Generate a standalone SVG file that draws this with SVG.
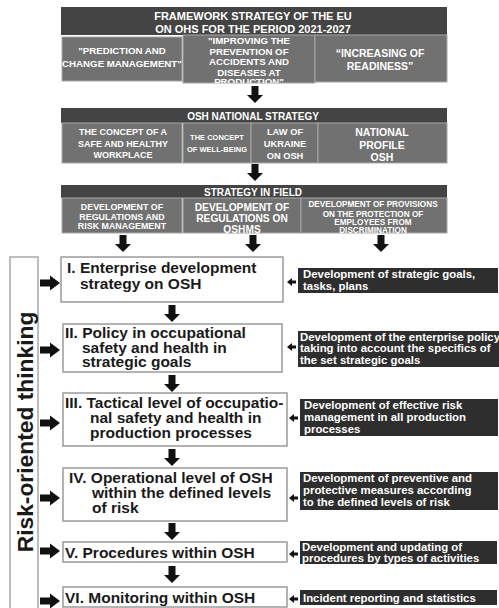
<svg xmlns="http://www.w3.org/2000/svg" width="499" height="608" viewBox="0 0 499 608">
<style>
text{font-family:"Liberation Sans",Arial,sans-serif;font-weight:bold}
.hd{fill:#444}
.sb{fill:#717171;stroke:#a8a8a8;stroke-width:1}
.wt{fill:#fff;text-anchor:middle}
.mb{fill:#fff;stroke:#9a9a9a;stroke-width:1.5}
.mt{fill:#1a1a1a;font-size:15.5px}
.db{fill:#2e2e2e}
.dt{fill:#fff;font-size:11.4px}
.ar{fill:#111}
</style>
<defs>
<path id="down" d="M-3.5,0 H3.5 V9 H8 L0,17 L-8,9 H-3.5 Z"/>
<path id="right" d="M0,-3.5 H10 V-7.5 L20,0 L10,7.5 V3.5 H0 Z"/>
<path id="lsm" d="M0,0 L5,-4 V-1.5 H9 V1.5 H5 V4 Z"/>
<clipPath id="clipImp"><rect x="183" y="35" width="132" height="48"/></clipPath>
</defs>

<g id="eu-framework">
<rect class="hd" x="61" y="7" width="386" height="28"/>
<text class="wt" x="253" y="20" font-size="11">FRAMEWORK STRATEGY OF THE EU</text>
<text class="wt" x="253" y="33" font-size="11">ON OHS FOR THE PERIOD 2021-2027</text>
</g>
<g id="eu-prediction">
<rect class="sb" x="62" y="37" width="120" height="44"/>
<text class="wt" x="122" y="54" font-size="9.7">"PREDICTION AND</text>
<text class="wt" x="122" y="67" font-size="9.7">CHANGE MANAGEMENT"</text>
</g>
<g id="eu-improving">
<rect class="sb" x="183" y="35" width="132" height="48"/>
<g clip-path="url(#clipImp)">
<text class="wt" x="249" y="44" font-size="9.7">"IMPROVING THE</text>
<text class="wt" x="249" y="54.5" font-size="9.7">PREVENTION OF</text>
<text class="wt" x="249" y="65" font-size="9.7">ACCIDENTS AND</text>
<text class="wt" x="249" y="75.5" font-size="9.7">DISEASES AT</text>
<text class="wt" x="249" y="85" font-size="9.7">PRODUCTION"</text>
</g>
</g>
<g id="eu-readiness">
<rect class="sb" x="315" y="35" width="132" height="47"/>
<text class="wt" x="380" y="57" font-size="10.5">“INCREASING OF</text>
<text class="wt" x="380" y="70" font-size="10.5">READINESS”</text>
</g>

<g id="national">
<rect class="hd" x="61" y="108" width="386" height="15"/>
<text class="wt" x="253" y="120" font-size="10">OSH NATIONAL STRATEGY</text>
</g>
<g id="nat-workplace">
<rect class="sb" x="62" y="123" width="120" height="40"/>
<text class="wt" x="123" y="135" font-size="9">THE CONCEPT OF A</text>
<text class="wt" x="123" y="147" font-size="9">SAFE AND HEALTHY</text>
<text class="wt" x="123" y="158" font-size="9">WORKPLACE</text>
</g>
<g id="nat-wellbeing">
<rect class="sb" x="183" y="123" width="68" height="40"/>
<text class="wt" x="217" y="140" font-size="7.5">THE CONCEPT</text>
<text class="wt" x="217" y="152" font-size="7.5">OF WELL-BEING</text>
</g>
<g id="nat-law">
<rect class="sb" x="251" y="123" width="67" height="40"/>
<text class="wt" x="285" y="135" font-size="9.3">LAW OF</text>
<text class="wt" x="285" y="147" font-size="9.3">UKRAINE</text>
<text class="wt" x="285" y="158.5" font-size="9.3">ON OSH</text>
</g>
<g id="nat-profile">
<rect class="sb" x="318" y="123" width="129" height="40"/>
<text class="wt" x="382" y="136" font-size="10.5">NATIONAL</text>
<text class="wt" x="382" y="148.5" font-size="10.5">PROFILE</text>
<text class="wt" x="382" y="161" font-size="10.5">OSH</text>
</g>

<g id="field">
<rect class="hd" x="61" y="185" width="386" height="13"/>
<text class="wt" x="253" y="196" font-size="10">STRATEGY IN FIELD</text>
</g>
<g id="field-risk">
<rect class="sb" x="62" y="198" width="120" height="35"/>
<text class="wt" x="122" y="210" font-size="8.9">DEVELOPMENT OF</text>
<text class="wt" x="122" y="219.5" font-size="8.9">REGULATIONS AND</text>
<text class="wt" x="122" y="228.5" font-size="8.9">RISK MANAGEMENT</text>
</g>
<g id="field-oshms">
<rect class="sb" x="183" y="198" width="118" height="35"/>
<text class="wt" x="242" y="210.5" font-size="10.2">DEVELOPMENT OF</text>
<text class="wt" x="242" y="221.5" font-size="10.2">REGULATIONS ON</text>
<text class="wt" x="242" y="233" font-size="10.2">OSHMS</text>
</g>
<g id="field-discrimination">
<rect class="sb" x="301" y="198" width="146" height="35"/>
<text class="wt" x="373" y="207" font-size="8.2">DEVELOPMENT OF PROVISIONS</text>
<text class="wt" x="373" y="216.5" font-size="8.2">ON THE PROTECTION OF</text>
<text class="wt" x="373" y="225" font-size="8.2">EMPLOYEES FROM</text>
<text class="wt" x="373" y="233" font-size="8.2">DISCRIMINATION</text>
</g>

<g id="risk-thinking">
<rect x="10" y="257" width="28" height="355" fill="#fff" stroke="#a8a8a8" stroke-width="1.5"/>
<text transform="translate(33,432) rotate(-90)" text-anchor="middle" font-size="22.8" fill="#1a1a1a">Risk-oriented thinking</text>
</g>

<g id="level1">
<rect class="mb" x="61" y="257" width="222" height="45"/>
<text class="mt" x="67" y="273">I. Enterprise development</text>
<text class="mt" x="80" y="289">strategy on OSH</text>
</g>
<g id="level2">
<rect class="mb" x="63" y="324" width="219" height="48"/>
<text class="mt" x="65" y="338">II. Policy in occupational</text>
<text class="mt" x="82" y="352.5">safety and health in</text>
<text class="mt" x="82" y="367">strategic goals</text>
</g>
<g id="level3">
<rect class="mb" x="63" y="393" width="224" height="53"/>
<text class="mt" x="65" y="408">III. Tactical level of occupatio-</text>
<text class="mt" x="90" y="423">nal safety and health in</text>
<text class="mt" x="90" y="438">production processes</text>
</g>
<g id="level4">
<rect class="mb" x="63" y="468" width="224" height="53"/>
<text class="mt" x="69" y="483">IV. Operational level of OSH</text>
<text class="mt" x="92" y="498">within the defined levels</text>
<text class="mt" x="92" y="513">of risk</text>
</g>
<g id="level5">
<rect class="mb" x="63" y="542" width="224" height="20"/>
<text class="mt" x="65" y="557.5">V. Procedures within OSH</text>
</g>
<g id="level6">
<rect class="mb" x="63" y="587" width="224" height="20"/>
<text class="mt" x="65" y="602.5">VI. Monitoring within OSH</text>
</g>

<g id="note1">
<rect class="db" x="298" y="268" width="200" height="25"/>
<text class="dt" x="303" y="278">Development of strategic goals,</text>
<text class="dt" x="303" y="289.5">tasks, plans</text>
</g>
<g id="note2">
<rect class="db" x="298" y="331" width="201" height="36"/>
<text class="dt" x="300" y="340.5">Development of the enterprise policy</text>
<text class="dt" x="300" y="352">taking into account the specifics of</text>
<text class="dt" x="300" y="363.5">the set strategic goals</text>
</g>
<g id="note3">
<rect class="db" x="300" y="399" width="198" height="37"/>
<text class="dt" x="304" y="408.5">Development of effective risk</text>
<text class="dt" x="304" y="420.5">management in all production</text>
<text class="dt" x="304" y="432.5">processes</text>
</g>
<g id="note4">
<rect class="db" x="300" y="472" width="198" height="38"/>
<text class="dt" x="303" y="481.5">Development of preventive and</text>
<text class="dt" x="303" y="493.5">protective measures according</text>
<text class="dt" x="303" y="505.5">to the defined levels of risk</text>
</g>
<g id="note5">
<rect class="db" x="300" y="541" width="197" height="23"/>
<text class="dt" x="302" y="550.5">Development and updating of</text>
<text class="dt" x="302" y="562">procedures by types of activities</text>
</g>
<g id="note6">
<rect class="db" x="300" y="590" width="197" height="15"/>
<text class="dt" x="303" y="602">Incident reporting and statistics</text>
</g>

<g id="connectors" class="ar">
<use href="#down" x="255" y="86"/>
<use href="#down" x="255" y="164"/>
<use href="#down" x="123" y="235"/>
<use href="#down" x="253" y="235"/>
<use href="#down" x="381" y="235"/>
<use href="#down" x="172" y="305"/>
<use href="#down" x="172" y="375"/>
<use href="#down" x="172" y="449"/>
<use href="#down" x="172" y="523"/>
<use href="#down" x="172" y="566"/>
<use href="#right" x="40" y="283"/>
<use href="#right" x="40" y="350"/>
<use href="#right" x="40" y="423"/>
<use href="#right" x="40" y="498"/>
<use href="#right" x="40" y="551"/>
<use href="#right" x="40" y="601"/>
<use href="#lsm" x="287" y="282"/>
<use href="#lsm" x="287" y="347"/>
<use href="#lsm" x="289" y="418"/>
<use href="#lsm" x="289" y="498"/>
<use href="#lsm" x="289" y="554"/>
<use href="#lsm" x="289" y="599"/>
</g>
</svg>
